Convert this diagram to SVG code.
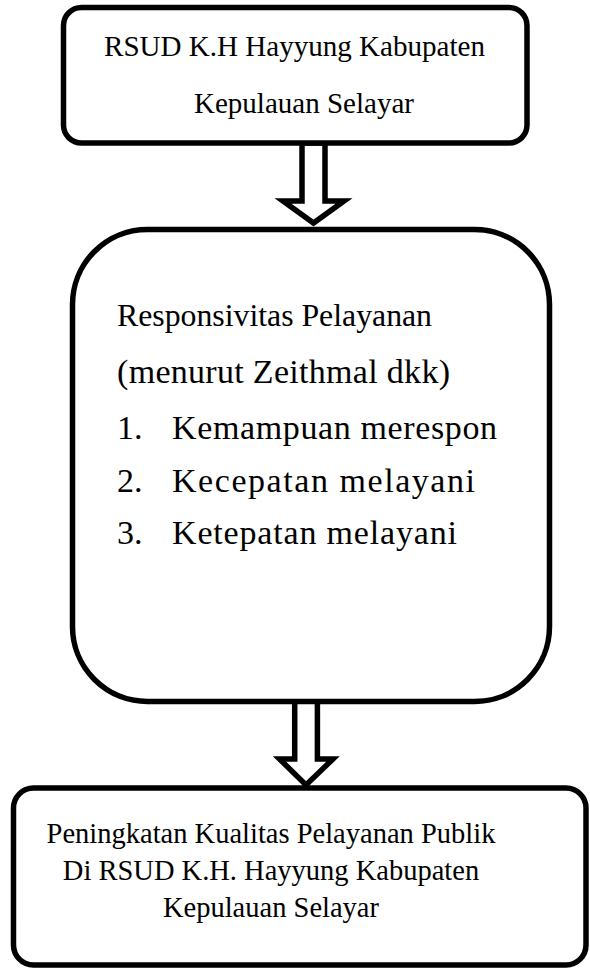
<svg xmlns="http://www.w3.org/2000/svg" width="590" height="968" viewBox="0 0 590 968">
<style>
.box{fill:#fff;stroke:#000;stroke-width:5.5}
.arr{fill:#fff;stroke:#000;stroke-width:5.5;stroke-linejoin:miter}
text{font-family:"Liberation Serif","Times New Roman",serif;font-size:28.5px;fill:#000}
.t{font-size:29.2px}
.m{font-size:32px}
.n{font-size:34px}
</style>
<rect width="590" height="968" fill="#fff"/>
<g id="connectors">
<polygon class="arr" points="302,143 325,143 325,201 344,201 313.5,223 283,201 302,201"/>
<polygon class="arr" points="294.7,701 317.4,701 317.4,759 333,759 306,785 279.5,759 294.7,759"/>
</g>
<g id="node-top">
<rect class="box" x="63.5" y="7.5" width="463.5" height="135.5" rx="18"/>
<text class="t" x="104" y="56" textLength="381" lengthAdjust="spacingAndGlyphs">RSUD K.H Hayyung Kabupaten</text>
<text class="t" x="194" y="113" textLength="220" lengthAdjust="spacingAndGlyphs">Kepulauan Selayar</text>
</g>
<g id="node-middle">
<rect class="box" x="72.5" y="229.5" width="477" height="472" rx="75"/>
<text class="m" x="117" y="326" textLength="315" lengthAdjust="spacingAndGlyphs">Responsivitas Pelayanan</text>
<text class="n" x="117" y="383" textLength="333" lengthAdjust="spacing">(menurut Zeithmal dkk)</text>
<text class="n" x="117" y="439">1.</text>
<text class="n" x="172" y="439" textLength="325" lengthAdjust="spacing">Kemampuan merespon</text>
<text class="n" x="117" y="492">2.</text>
<text class="n" x="172" y="492" textLength="303" lengthAdjust="spacing">Kecepatan melayani</text>
<text class="n" x="117" y="544">3.</text>
<text class="n" x="172" y="544" textLength="285" lengthAdjust="spacing">Ketepatan melayani</text>
</g>
<g id="node-bottom">
<rect class="box" x="13.5" y="788" width="572.5" height="177" rx="20"/>
<text x="271" y="843" text-anchor="middle">Peningkatan Kualitas Pelayanan Publik</text>
<text x="271" y="880" text-anchor="middle">Di RSUD K.H. Hayyung Kabupaten</text>
<text x="271" y="917" text-anchor="middle">Kepulauan Selayar</text>
</g>
</svg>
